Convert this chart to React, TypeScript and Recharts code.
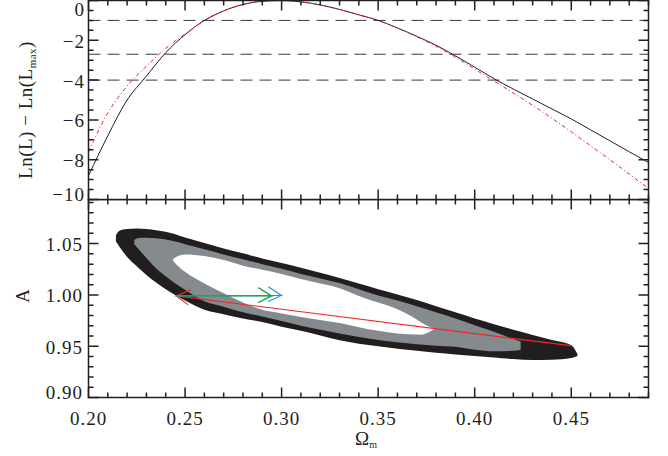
import React from "react";
import { ComposedChart, Line, Area, XAxis, YAxis, ReferenceLine } from "recharts";

// top panel: profile likelihood vs Omega_m
const omegaM = [
  0.2, 0.21, 0.22, 0.23, 0.24, 0.25, 0.26, 0.27, 0.28, 0.29, 0.3, 0.31, 0.32, 0.33, 0.34,
  0.35, 0.36, 0.37, 0.38, 0.39, 0.4, 0.41, 0.42, 0.43, 0.44, 0.45, 0.46, 0.47, 0.48, 0.49,
];
const lnLSolid = [
  -8.8, -6.8, -5.0, -3.8, -2.62, -1.72, -1.0, -0.52, -0.2, -0.04, 0, -0.07, -0.22, -0.45, -0.72,
  -1.0, -1.38, -1.8, -2.25, -2.78, -3.35, -3.93, -4.45, -4.95, -5.45, -5.95, -6.5, -7.05, -7.6, -8.14,
];
const lnLDashDot = [
  -7.6, -5.65, -4.3, -3.3, -2.4, -1.68, -1.02, -0.53, -0.2, -0.04, 0, -0.07, -0.22, -0.45, -0.72,
  -1.0, -1.39, -1.82, -2.3, -2.85, -3.45, -4.05, -4.65, -5.27, -5.92, -6.6, -7.3, -8.0, -8.72, -9.45,
];
const levels = [-1.0, -2.7, -4.0];

// bottom panel: confidence regions in (Omega_m, A)
const outerX = [
  0.2142, 0.216, 0.22, 0.225, 0.23, 0.235, 0.24, 0.25, 0.26, 0.27, 0.28, 0.29, 0.3, 0.31, 0.32,
  0.33, 0.34, 0.35, 0.36, 0.37, 0.38, 0.39, 0.4, 0.41, 0.42, 0.43, 0.44, 0.45, 0.4532,
];
const outerLo = [
  1.052, 1.047, 1.037, 1.028, 1.0195, 1.012, 1.0055, 0.9945, 0.9855, 0.9812, 0.977, 0.9737, 0.969,
  0.965, 0.9605, 0.9558, 0.9525, 0.95, 0.9475, 0.9455, 0.9435, 0.942, 0.9405, 0.939, 0.9375,
  0.9365, 0.9368, 0.9385, 0.9405,
];
const outerHi = [
  1.058, 1.0625, 1.0642, 1.0648, 1.0643, 1.063, 1.0615, 1.056, 1.0505, 1.0452, 1.0405, 1.0355,
  1.031, 1.0265, 1.0215, 1.0165, 1.011, 1.0055, 1.0005, 0.995, 0.989, 0.983, 0.977, 0.9715, 0.966,
  0.961, 0.956, 0.951, 0.9425,
];

const grayX = [
  0.2237, 0.226, 0.23, 0.235, 0.24, 0.25, 0.26, 0.27, 0.28, 0.29, 0.3, 0.31, 0.32, 0.33, 0.34,
  0.35, 0.36, 0.37, 0.38, 0.39, 0.4, 0.41, 0.42, 0.4238,
];
const grayLo = [
  1.0495, 1.0445, 1.036, 1.026, 1.0183, 1.005, 0.9938, 0.9885, 0.983, 0.979, 0.9745, 0.97, 0.966,
  0.9625, 0.959, 0.956, 0.9538, 0.952, 0.9505, 0.9495, 0.9465, 0.945, 0.9455, 0.9466,
];
const grayHi = [
  1.0535, 1.0555, 1.0557, 1.0552, 1.054, 1.0495, 1.0445, 1.0395, 1.0348, 1.03, 1.0255, 1.0205,
  1.016, 1.0115, 1.0055, 0.9995, 0.9945, 0.989, 0.983, 0.977, 0.9705, 0.964, 0.957, 0.9547,
];

const whiteX = [
  0.2438, 0.247, 0.25, 0.26, 0.27, 0.28, 0.29, 0.3, 0.31, 0.32, 0.33, 0.34, 0.35, 0.36, 0.37,
  0.372, 0.3788,
];
const whiteLo = [
  1.033, 1.027, 1.0225, 1.011, 1.0015, 0.9925, 0.9855, 0.982, 0.9785, 0.9755, 0.9725, 0.9685,
  0.965, 0.9625, 0.9613, 0.9612, 0.9665,
];
const whiteHi = [
  1.035, 1.0385, 1.0395, 1.038, 1.034, 1.0285, 1.0245, 1.0205, 1.0155, 1.011, 1.0065, 0.999,
  0.9925, 0.986, 0.976, 0.9735, 0.9668,
];

// arrows (points in drawing order: shaft + head)
const redArrow = [
  { x: 0.4497, y: 0.9505 },
  { x: 0.2455, y: 0.999 },
  { x: 0.2528, y: 1.0049 },
  { x: 0.2455, y: 0.999 },
  { x: 0.2516, y: 0.9903 },
];
const blueArrow = [
  { x: 0.2455, y: 0.999 },
  { x: 0.3, y: 0.9995 },
  { x: 0.2931, y: 1.008 },
  { x: 0.3, y: 0.9995 },
  { x: 0.2931, y: 0.9935 },
];
const greenArrow = [
  { x: 0.2455, y: 0.999 },
  { x: 0.2948, y: 0.999 },
  { x: 0.2879, y: 1.0071 },
  { x: 0.2948, y: 0.999 },
  { x: 0.2879, y: 0.9925 },
];

const omegaTicks = [
  0.2, 0.21, 0.22, 0.23, 0.24, 0.25, 0.26, 0.27, 0.28, 0.29, 0.3, 0.31, 0.32, 0.33, 0.34, 0.35,
  0.36, 0.37, 0.38, 0.39, 0.4, 0.41, 0.42, 0.43, 0.44, 0.45, 0.46, 0.47, 0.48, 0.49,
];
const lnLTicks = [
  0, -0.5, -1, -1.5, -2, -2.5, -3, -3.5, -4, -4.5, -5, -5.5, -6, -6.5, -7, -7.5, -8, -8.5, -9,
  -9.5, -10,
];
const ampTicks = [
  0.9, 0.91, 0.92, 0.93, 0.94, 0.95, 0.96, 0.97, 0.98, 0.99, 1.0, 1.01, 1.02, 1.03, 1.04, 1.05,
  1.06, 1.07, 1.08, 1.09,
];

const likelihood = omegaM.map((x, i) => ({ x, solid: lnLSolid[i], dashDot: lnLDashDot[i] }));

// merge the three contour bands into one table keyed by x
const bandRows = (() => {
  const rows = new Map<string, any>();
  const put = (xs: number[], lo: number[], hi: number[], key: string) =>
    xs.forEach((x, i) => {
      const k = x.toFixed(4);
      if (!rows.has(k)) rows.set(k, { x });
      rows.get(k)[key] = [lo[i], hi[i]];
    });
  put(outerX, outerLo, outerHi, "outer");
  put(grayX, grayLo, grayHi, "gray");
  put(whiteX, whiteLo, whiteHi, "white");
  return Array.from(rows.values()).sort((a, b) => a.x - b.x);
})();

const FONT = "'Liberation Serif', 'DejaVu Serif', serif";
const INK = "#231f20";

const X_DOM: [number, number] = [0.2, 0.49];
const LNL_DOM: [number, number] = [-10, 0];
const AMP_DOM: [number, number] = [0.9, 1.093];
const PLOT_W = 560;
const TOP_H = 199;
const BOT_H = 198;

const isMajor = (v: number, step: number) => Math.abs(v / step - Math.round(v / step)) < 1e-6;

// box frame with inward ticks: one polyline per side, going out and back at every tick
function frameSides(yTicks: number[], yStep: number, yDom: [number, number], plotH: number) {
  const xPerPx = (X_DOM[1] - X_DOM[0]) / PLOT_W;
  const yPerPx = (yDom[1] - yDom[0]) / plotH;
  const bottom: { x: number; y: number }[] = [];
  const top: { x: number; y: number }[] = [];
  const left: { x: number; y: number }[] = [];
  const right: { x: number; y: number }[] = [];
  omegaTicks.forEach((t) => {
    const len = (isMajor(t, 0.05) ? 10 : 5) * yPerPx;
    bottom.push({ x: t, y: yDom[0] }, { x: t, y: yDom[0] + len }, { x: t, y: yDom[0] });
    top.push({ x: t, y: yDom[1] }, { x: t, y: yDom[1] - len }, { x: t, y: yDom[1] });
  });
  const ys = [...yTicks].sort((a, b) => a - b);
  if (ys[ys.length - 1] < yDom[1]) ys.push(yDom[1]);
  ys.forEach((t) => {
    const len = (isMajor(t, yStep) ? 10 : 5) * xPerPx;
    left.push({ x: X_DOM[0], y: t });
    right.push({ x: X_DOM[1], y: t });
    if (yTicks.includes(t)) {
      left.push({ x: X_DOM[0] + len, y: t }, { x: X_DOM[0], y: t });
      right.push({ x: X_DOM[1] - len, y: t }, { x: X_DOM[1], y: t });
    }
  });
  return [bottom, top, left, right];
}

function XLabel(props: any) {
  const { x, y, payload } = props;
  if (!isMajor(payload.value, 0.05)) return <g />;
  return (
    <text x={x} y={y + 27} textAnchor="middle" fontFamily={FONT} fontSize={19} letterSpacing={1} fill={INK}>
      {payload.value.toFixed(2)}
    </text>
  );
}

function YLabel(props: any) {
  const { y, payload, step, fmt, top, bottom, labelX } = props;
  const v = payload.value;
  if (!isMajor(v, step)) return <g />;
  const ty = Math.min(Math.max(y + 7.5, top + 15), bottom + 1);
  return (
    <text x={labelX} y={ty} textAnchor="end" fontFamily={FONT} fontSize={19} letterSpacing={1} fill={INK}>
      {fmt(v)}
    </text>
  );
}

const fmtLnL = (v: number) => (v < 0 ? "\u2212" + Math.abs(v) : String(v));
const fmtAmp = (v: number) => v.toFixed(2);

const App = () => {
  const topFrame = frameSides(lnLTicks, 2, LNL_DOM, TOP_H);
  const botFrame = frameSides(ampTicks, 0.05, AMP_DOM, BOT_H);
  return (
    <div style={{ position: "absolute", left: 0, top: 0, width: 668, height: 456, background: "#fff" }}>
      <div style={{ position: "absolute", left: 0, top: 0 }}>
        <ComposedChart width={668} height={210} data={likelihood} margin={{ top: 0, right: 19, bottom: 0, left: 0 }}>
          <XAxis xAxisId="b" dataKey="x" type="number" domain={X_DOM} ticks={omegaTicks}
            interval={0} height={10.5} tickLine={false} tick={false} axisLine={false} />
          <XAxis xAxisId="t" orientation="top" dataKey="x" type="number" domain={X_DOM}
            ticks={omegaTicks} interval={0} height={0.5} tickLine={false} tick={false} axisLine={false} />
          <YAxis yAxisId="l" type="number" domain={LNL_DOM} ticks={lnLTicks} interval={0}
            width={88.5} tickLine={false} tickSize={0} tickMargin={0} axisLine={false}
            tick={<YLabel step={2} fmt={fmtLnL} top={0.5} bottom={199.5} labelX={85} />} />
          <YAxis yAxisId="r" orientation="right" type="number" domain={LNL_DOM} ticks={lnLTicks}
            interval={0} width={0.5} tickLine={false} tick={false} axisLine={false} />
          {levels.map((lv) => (
            <ReferenceLine key={lv} xAxisId="b" yAxisId="l" y={lv} stroke="#3a3a3a" strokeWidth={1} strokeDasharray="12 7" />
          ))}
          <Line xAxisId="b" yAxisId="l" type="monotone" dataKey="solid" stroke={INK} strokeWidth={1}
            dot={false} activeDot={false} isAnimationActive={false} />
          <Line xAxisId="b" yAxisId="l" type="monotone" dataKey="dashDot" stroke="#e8262b" strokeWidth={1}
            strokeDasharray="4 2.5 1 2.5" dot={false} activeDot={false} isAnimationActive={false} />
          {topFrame.map((side, i) => (
            <Line key={"tf" + i} xAxisId="b" yAxisId="l" data={side} dataKey="y" type="linear" stroke={INK}
              strokeWidth={1.5} dot={false} activeDot={false} isAnimationActive={false} />
          ))}
        </ComposedChart>
      </div>
      <div style={{ position: "absolute", left: 0, top: 199 }}>
        <ComposedChart width={668} height={255.5} data={bandRows} margin={{ top: 0, right: 19, bottom: 0, left: 0 }}>
          <XAxis xAxisId="b" dataKey="x" type="number" domain={X_DOM} ticks={omegaTicks}
            interval={0} height={57} tickLine={false} tickSize={0} tickMargin={0} axisLine={false}
            tick={<XLabel />} />
          <XAxis xAxisId="t" orientation="top" dataKey="x" type="number" domain={X_DOM}
            ticks={omegaTicks} interval={0} height={0.5} tickLine={false} tick={false} axisLine={false} />
          <YAxis yAxisId="l" type="number" domain={AMP_DOM} ticks={ampTicks} interval={0}
            width={88.5} tickLine={false} tickSize={0} tickMargin={0} axisLine={false}
            tick={<YLabel step={0.05} fmt={fmtAmp} top={0.5} bottom={198.5} labelX={83} />} />
          <YAxis yAxisId="r" orientation="right" type="number" domain={AMP_DOM} ticks={ampTicks}
            interval={0} width={0.5} tickLine={false} tick={false} axisLine={false} />
          <Area xAxisId="b" yAxisId="l" type="monotone" dataKey="outer" fill="#221e1f" fillOpacity={1} stroke="none"
            connectNulls dot={false} activeDot={false} isAnimationActive={false} />
          <Area xAxisId="b" yAxisId="l" type="monotone" dataKey="gray" fill="#858a8f" fillOpacity={1} stroke="none"
            connectNulls dot={false} activeDot={false} isAnimationActive={false} />
          <Area xAxisId="b" yAxisId="l" type="monotone" dataKey="white" fill="#ffffff" fillOpacity={1} stroke="none"
            connectNulls dot={false} activeDot={false} isAnimationActive={false} />
          <Line xAxisId="b" yAxisId="l" data={redArrow} dataKey="y" type="linear" stroke="#f0262a" strokeWidth={1.2}
            dot={false} activeDot={false} isAnimationActive={false} />
          <Line xAxisId="b" yAxisId="l" data={blueArrow} dataKey="y" type="linear" stroke="#1b9ad6" strokeWidth={1.2}
            dot={false} activeDot={false} isAnimationActive={false} />
          <Line xAxisId="b" yAxisId="l" data={greenArrow} dataKey="y" type="linear" stroke="#1aa64b" strokeWidth={1.3}
            dot={false} activeDot={false} isAnimationActive={false} />
          {botFrame.map((side, i) => (
            <Line key={"bf" + i} xAxisId="b" yAxisId="l" data={side} dataKey="y" type="linear" stroke={INK}
              strokeWidth={1.5} dot={false} activeDot={false} isAnimationActive={false} />
          ))}
        </ComposedChart>
      </div>
      <svg width={668} height={456} style={{ position: "absolute", left: 0, top: 0, pointerEvents: "none" }}>
        <text transform="translate(32,110) rotate(-90)" textAnchor="middle" fontFamily={FONT} fontSize={19}
          letterSpacing={0.5} fill={INK}>
          Ln(L) {"\u2212"} Ln(L<tspan fontSize={11} dy={4}>max</tspan><tspan dy={-4}>)</tspan>
        </text>
        <text transform="translate(29,296) rotate(-90)" textAnchor="middle" fontFamily={FONT} fontSize={19} fill={INK}>
          A
        </text>
        <text x={366} y={445} textAnchor="middle" fontFamily={FONT} fontSize={19} fill={INK}>
          {"\u03a9"}<tspan fontSize={10} dy={3}>m</tspan>
        </text>
      </svg>
    </div>
  );
};

export default App;
